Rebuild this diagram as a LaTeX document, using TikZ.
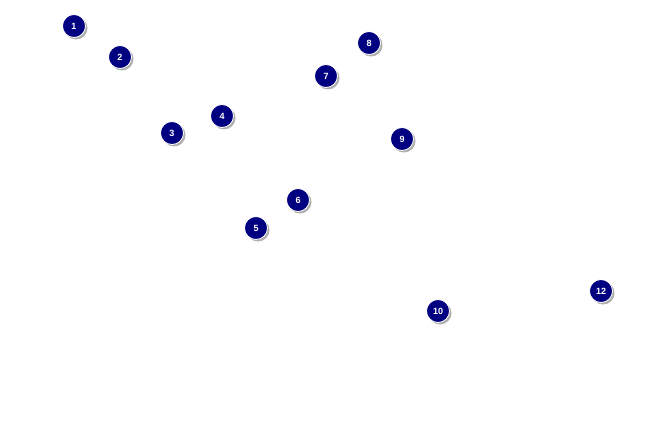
\documentclass[tikz,border=0pt]{standalone}
\usepackage{fontspec}
\setmainfont{Liberation Sans}
\usetikzlibrary{shadows}
\definecolor{dotblue}{RGB}{0,0,128}
\begin{document}
\begin{tikzpicture}[x=1pt,y=-1pt,
    spot/.style={circle,fill=dotblue,draw=white,line width=0.8pt,inner sep=0pt,minimum size=23pt,
      font=\bfseries\fontsize{9}{9}\selectfont,text=white,
      drop shadow={shadow xshift=2pt,shadow yshift=-2pt,fill=black!45,opacity=0.7}}]
    \useasboundingbox (0,0) rectangle (650,425);
    \node[spot] (n1) at (74,26) {1};
    \node[spot] (n2) at (120,57) {2};
    \node[spot] (n3) at (172,133) {3};
    \node[spot] (n4) at (222,116) {4};
    \node[spot] (n5) at (256,228) {5};
    \node[spot] (n6) at (298,200) {6};
    \node[spot] (n7) at (326,76) {7};
    \node[spot] (n8) at (369,43) {8};
    \node[spot] (n9) at (402,139) {9};
    \node[spot] (n10) at (438,311) {10};
    \node[spot] (n12) at (601,291) {12};
\end{tikzpicture}
\end{document}
